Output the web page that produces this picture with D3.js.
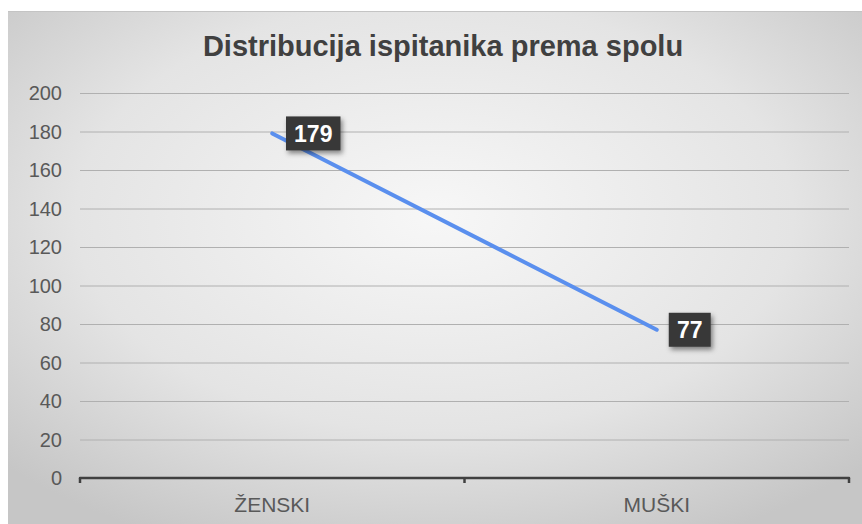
<!DOCTYPE html>
<html><head><meta charset="utf-8">
<script src="https://cdn.jsdelivr.net/npm/d3@7"></script>
<style>body{margin:0;background:#fff;}svg{display:block;font-family:Arial,"Liberation Sans",sans-serif;}</style>
</head><body><svg id="c" width="862" height="524"></svg>
<script>
const categories = ["ŽENSKI", "MUŠKI"];
const values = [179, 77];
const yTicks = [0, 20, 40, 60, 80, 100, 120, 140, 160, 180, 200];
const title = "Distribucija ispitanika prema spolu";

(function(){
const svg = d3.select("#c");
const defs = svg.append("defs");
const rg = defs.append("radialGradient").attr("id","bg").attr("cx","50%").attr("cy","40%").attr("r","70%");
rg.append("stop").attr("offset","0%").attr("stop-color","#f7f7f7");
rg.append("stop").attr("offset","60%").attr("stop-color","#e4e4e4");
rg.append("stop").attr("offset","100%").attr("stop-color","#c6c6c6");
const f = defs.append("filter").attr("id","sh").attr("x","-30%").attr("y","-30%").attr("width","170%").attr("height","170%");
f.append("feDropShadow").attr("dx",2).attr("dy",3).attr("stdDeviation",2.5).attr("flood-color","#000").attr("flood-opacity",0.45);

svg.append("rect").attr("x",8).attr("y",11).attr("width",854).attr("height",513).attr("fill","url(#bg)");
svg.append("line").attr("x1",8).attr("x2",862).attr("y1",11.5).attr("y2",11.5).attr("stroke","#c4c4c4");

const pl = 80, pr = 849, pt = 93, pb = 478;
const x = d3.scaleBand().domain(categories).range([pl, pr]);
const y = d3.scaleLinear().domain([0, 200]).range([pb, pt]);

svg.append("text").attr("x", 443).attr("y", 56).attr("text-anchor","middle")
  .attr("font-size", 29).attr("font-weight","bold").attr("fill","#404040").text(title);

svg.append("g").selectAll("line").data(yTicks.filter(d=>d>0)).join("line")
  .attr("x1", pl).attr("x2", pr).attr("y1", d=>y(d)+0.5).attr("y2", d=>y(d)+0.5)
  .attr("stroke","#b0b0b0").attr("stroke-width",1);

svg.append("g").selectAll("text").data(yTicks).join("text")
  .attr("x", 62).attr("y", d=>y(d)).attr("dy","0.36em").attr("text-anchor","end")
  .attr("font-size",20).attr("fill","#595959").text(d=>d);

const xa = svg.append("g").attr("transform",`translate(0,${pb})`);
xa.append("line").attr("x1",pl).attr("x2",pr).attr("stroke","#404040").attr("stroke-width",2.5).attr("stroke-linecap","round");
const tickPos = [pl, ...categories.slice(1).map(c=>x(c)), pr];
xa.selectAll("line.t").data(tickPos).join("line").attr("class","t")
  .attr("x1",d=>d).attr("x2",d=>d).attr("y1",0).attr("y2",5).attr("stroke","#404040").attr("stroke-width",2.5);
xa.selectAll("text").data(categories).join("text")
  .attr("x", d=>x(d)+x.bandwidth()/2).attr("y", 34).attr("text-anchor","middle")
  .attr("font-size",21).attr("fill","#595959").text(d=>d);

const pts = categories.map((c,i)=>[x(c)+x.bandwidth()/2, y(values[i])]);
svg.append("path").attr("d", d3.line()(pts)).attr("fill","none")
  .attr("stroke","#5a8fee").attr("stroke-width",4).attr("stroke-linecap","round");

const lbl = svg.append("g").selectAll("g").data(values).join("g")
  .attr("transform",(d,i)=>`translate(${pts[i][0]+ (i===0?41:33)},${pts[i][1]})`);
lbl.each(function(d){
  const g = d3.select(this);
  const w = String(d).length*12.5+17;
  g.append("rect").attr("x",-w/2).attr("y",-17).attr("width",w).attr("height",34)
    .attr("fill","#383838").attr("filter","url(#sh)");
  g.append("text").attr("text-anchor","middle").attr("dy","0.36em").attr("font-size",23)
    .attr("font-weight","bold").attr("fill","#fff").text(d);
});
})();
</script></body></html>
